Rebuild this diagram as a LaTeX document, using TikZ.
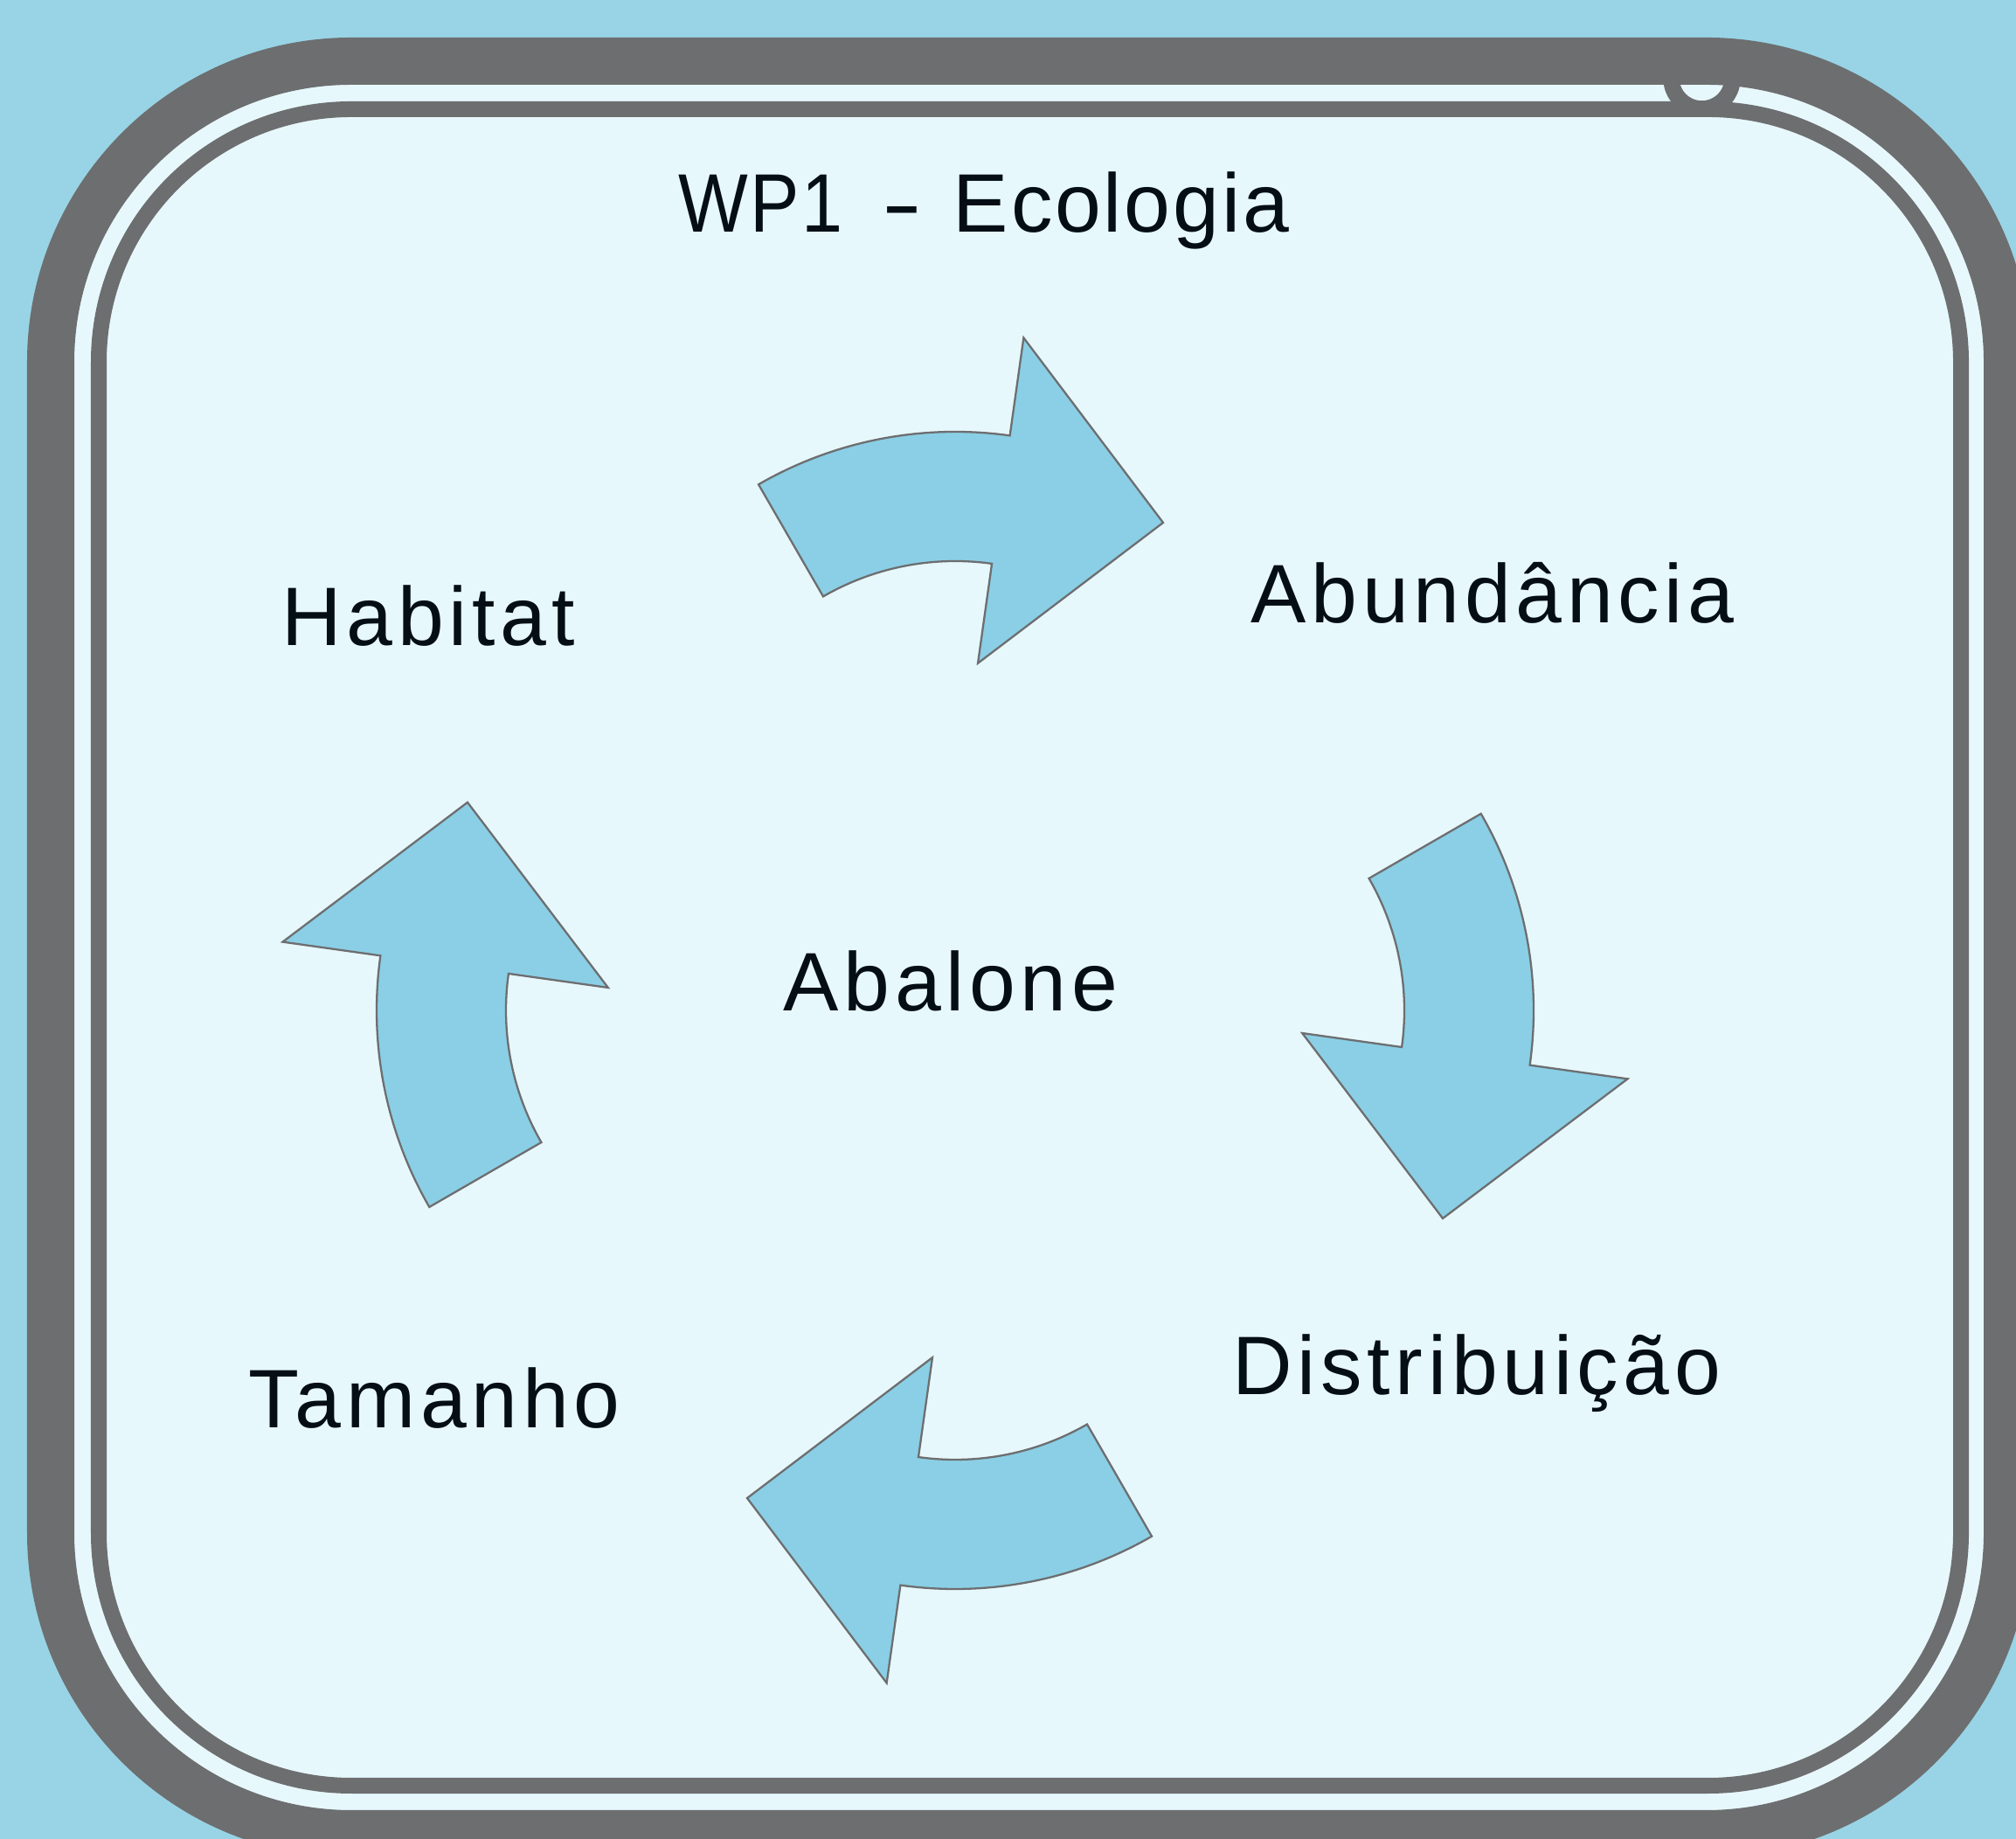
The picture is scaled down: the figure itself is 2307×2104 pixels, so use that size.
\documentclass[tikz,border=0pt]{standalone}
\usepackage{fontspec}
\usepackage{graphicx}
\newfontfamily\lblfont[LetterSpace=6]{Liberation Sans}
\newfontfamily\ttlfont[LetterSpace=3]{Liberation Sans}
\definecolor{bgblue}{HTML}{98D4E5}
\definecolor{panel}{HTML}{E7F8FC}
\definecolor{framegray}{HTML}{6D6E70}
\definecolor{arrowfill}{HTML}{8ACFE5}
\definecolor{textdark}{HTML}{040E14}
\tikzset{
  lbl/.style={inner sep=0pt, anchor=base, text=textdark, font=\lblfont\fontsize{27}{32}\selectfont},
  ttl/.style={inner sep=0pt, anchor=base west, text=textdark, font=\ttlfont\fontsize{27}{32}\selectfont},
  cyclearrow/.style={draw=framegray, line width=0.65pt, fill=arrowfill, line join=miter},
}
\begin{document}
\begin{tikzpicture}[x=0.01cm,y=0.01cm]
\useasboundingbox (0,0) rectangle (2307,2104);
\clip (0,0) rectangle (2307,2104);
\fill[bgblue] (0,0) rectangle (2307,2104);
% light gap under thick band
\fill[panel, rounded corners=3.44cm] (58,6) rectangle (2297,2034);
% small ring
\draw[framegray, line width=5.26pt, fill=panel] (1947.5,2014.5) circle[radius=35];
% thick band
\draw[framegray, line width=15.36pt, rounded corners=3.44cm] (58,6) rectangle (2297,2034);
% thin band
\draw[framegray, line width=5.12pt, fill=panel, rounded corners=2.89cm] (113,61) rectangle (2244,1979);
% cycle arrows
\foreach \a in {0,-90,-180,-270} {
  \begin{scope}[shift={(1093,948)}, rotate=\a, shift={(0,212)}]
    \draw[cyclearrow] (120:450) arc[start angle=120, end angle=82, radius=450]
      -- (82:563) -- (238,346) -- (82:187) -- (82:302)
      arc[start angle=82, end angle=120, radius=302] -- cycle;
  \end{scope}
}
% texts
\node[ttl] (title) at (776,1838) {\scalebox{0.89}[1]{WP1}\hspace{12.8pt}\scalebox{1.45}[1]{-}\hspace{10pt}Ecologia};
\node[lbl] (habitat) at (490,1365) {Habitat};
\node[lbl] (abund) at (1708,1391) {Abundância};
\node[lbl] (abalone) at (1088,947) {Abalone};
\node[lbl] (tamanho) at (497,470) {Tamanho};
\node[lbl] (distrib) at (1690,508) {Distribuição};
\end{tikzpicture}
\end{document}
